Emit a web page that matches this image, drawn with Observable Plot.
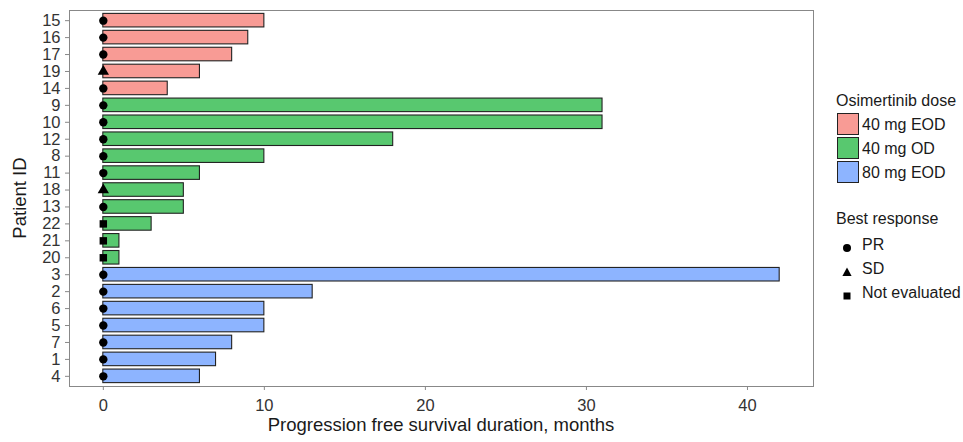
<!DOCTYPE html>
<html>
<head>
<meta charset="utf-8">
<script src="https://cdn.jsdelivr.net/npm/d3@7"></script>
<script src="https://cdn.jsdelivr.net/npm/@observablehq/plot@0.6"></script>
<style>
  html, body { margin: 0; padding: 0; background: #fff; }
  #wrap { position: relative; width: 963px; height: 442px; font-family: "Liberation Sans", Arial, Helvetica, sans-serif; color: #1a1a1a; }
  #chart svg { display: block; }
  .title { position: absolute; font-size: 18.5px; line-height: 1; white-space: nowrap; color: #1a1a1a; }
  .lg { position: absolute; white-space: nowrap; line-height: 1; color: #1a1a1a; }
  .lg-title { font-size: 16px; }
  .lg-label { font-size: 16px; }
  .sw { position: absolute; width: 20px; height: 20px; border: 1px solid #222; }
  .sym { position: absolute; }
  g[aria-label="x-axis tick"] path, g[aria-label="y-axis tick"] path { stroke: #888; }
</style>
</head>
<body>
<div id="wrap">
  <div id="chart"></div>
  <div class="title" id="xtitle" style="left:441px; top:416px; transform:translateX(-50%);">Progression free survival duration, months</div>
  <div class="title" id="ytitle" style="left:19.5px; top:198px; transform:translate(-50%,-50%) rotate(-90deg);">Patient ID</div>
  <div id="legend"></div>
</div>
<script>
const patients = ["15","16","17","19","14","9","10","12","8","11","18","13","22","21","20","3","2","6","5","7","1","4"];
const pfsMonths = [10,9,8,6,4,31,31,18,10,6,5,5,3,1,1,42,13,10,10,8,7,6];
const doses = ["40 mg EOD","40 mg EOD","40 mg EOD","40 mg EOD","40 mg EOD",
  "40 mg OD","40 mg OD","40 mg OD","40 mg OD","40 mg OD","40 mg OD","40 mg OD","40 mg OD","40 mg OD","40 mg OD",
  "80 mg EOD","80 mg EOD","80 mg EOD","80 mg EOD","80 mg EOD","80 mg EOD","80 mg EOD"];
const responses = ["PR","PR","PR","SD","PR","PR","PR","PR","PR","PR","SD","PR","Not evaluated","Not evaluated","Not evaluated",
  "PR","PR","PR","PR","PR","PR","PR"];
const doseLevels = ["40 mg EOD","40 mg OD","80 mg EOD"];
const doseColors = ["#F89B95","#58C86F","#8DB4FF"];
const responseLevels = ["PR","SD","Not evaluated"];
const responseSymbols = ["circle","triangle","square"];
const xTicks = [0,10,20,30,40];

const data = patients.map((p, i) => ({patient: p, pfs: pfsMonths[i], dose: doses[i], response: responses[i]}));

const chart = Plot.plot({
  width: 963,
  height: 442,
  marginLeft: 69,
  marginRight: 150,
  marginTop: 10,
  marginBottom: 56,
  style: {fontFamily: "Liberation Sans, Arial, Helvetica, sans-serif", fontSize: "16.5px", color: "#333", background: "#fff"},
  x: {domain: [-2.1, 44.1]},
  y: {domain: patients, paddingInner: 0.2, paddingOuter: 0.2, round: false},
  color: {domain: doseLevels, range: doseColors},
  symbol: {domain: responseLevels, range: responseSymbols},
  marks: [
    Plot.barX(data, {y: "patient", x1: 0, x2: "pfs", fill: "dose", stroke: "#222", strokeWidth: 1.1}),
    Plot.dot(data, {y: "patient", x: 0, symbol: "response", fill: "#000", stroke: "none", r: 4.2}),
    Plot.frame({stroke: "#888", strokeWidth: 1}),
    Plot.axisX({ticks: xTicks, tickSize: 4, tickPadding: 9, label: null, fontSize: 16.5}),
    Plot.axisY({tickSize: 4, tickPadding: 5, label: null, fontSize: 16.5})
  ]
});
document.getElementById("chart").appendChild(chart);

// legend
const lg = document.getElementById("legend");
const symSvg = {
  circle: '<svg width="10" height="10"><circle cx="5" cy="5" r="4" fill="#000"/></svg>',
  triangle: '<svg width="10" height="10"><path d="M5,0.6 L9.6,9 L0.4,9 Z" fill="#000"/></svg>',
  square: '<svg width="10" height="10"><rect x="1.5" y="1.5" width="7" height="7" fill="#000"/></svg>'
};
let html = `<div class="lg lg-title" style="left:836px; top:93px;">Osimertinib dose</div>`;
doseLevels.forEach((d, i) => {
  const top = 113 + 24 * i;
  html += `<div class="sw" style="left:837px; top:${top}px; background:${doseColors[i]}"></div>`;
  html += `<div class="lg lg-label" style="left:862px; top:${top + 3.5}px;">${d}</div>`;
});
html += `<div class="lg lg-title" style="left:836px; top:211px;">Best response</div>`;
responseLevels.forEach((r, i) => {
  const cy = 244 + 24 * i;
  html += `<div class="sym" style="left:842px; top:${cy - 5}px;">${symSvg[responseSymbols[i]]}</div>`;
  html += `<div class="lg lg-label" style="left:862px; top:${cy - 7.5}px;">${r}</div>`;
});
lg.innerHTML = html;
</script>
</body>
</html>
